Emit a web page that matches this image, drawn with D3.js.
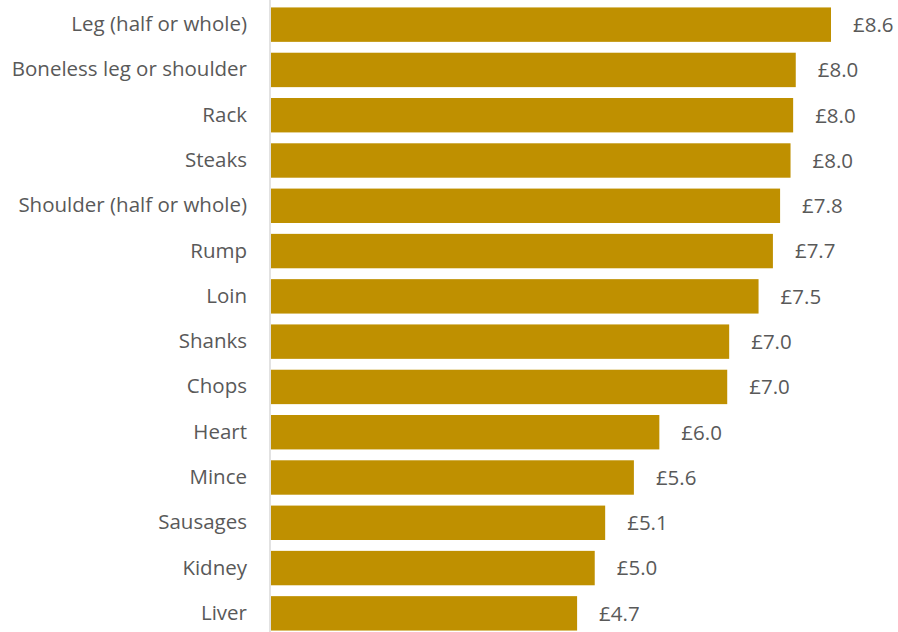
<!DOCTYPE html>
<html>
<head>
<meta charset="utf-8">
<script src="https://cdn.jsdelivr.net/npm/d3@7"></script>
<style>
  body { margin: 0; background: #fff; }
  svg { display: block; }
  text { font-family: "Open Sans", "Noto Sans", sans-serif; fill: #595959; }
</style>
</head>
<body>
<svg width="898" height="632"></svg>
<script>
// Categories and values, top to bottom
const cuts = ['Leg (half or whole)', 'Boneless leg or shoulder', 'Rack', 'Steaks',
  'Shoulder (half or whole)', 'Rump', 'Loin', 'Shanks', 'Chops', 'Heart',
  'Mince', 'Sausages', 'Kidney', 'Liver'];
const prices = [8.58, 8.04, 8.0, 7.96, 7.8, 7.69, 7.47, 7.02, 6.99, 5.95, 5.56, 5.12, 4.96, 4.69];

const margin = {top: 2, left: 271};
const height = 634;
const fontSize = '20.5px';

const svg = d3.select('svg');
const chart = svg.append('g')
  .attr('transform', 'translate(' + margin.left + ',' + margin.top + ')');

const x = d3.scaleLinear().domain([0, 8.58]).range([0, 560]);
const y = d3.scaleBand().domain(cuts).range([0, height]).paddingInner(0.24).paddingOuter(0.12);

// bars
chart.selectAll('rect.bar')
  .data(cuts).enter()
  .append('rect')
  .attr('class', 'bar')
  .attr('x', 0)
  .attr('y', d => y(d))
  .attr('width', (d, i) => x(prices[i]))
  .attr('height', y.bandwidth())
  .attr('fill', '#BF9000');

// value labels
chart.selectAll('text.val')
  .data(cuts).enter()
  .append('text')
  .attr('class', 'val')
  .attr('x', (d, i) => x(prices[i]) + 22)
  .attr('y', d => y(d) + y.bandwidth() / 2)
  .attr('dy', '0.36em')
  .style('font-size', fontSize)
  .text((d, i) => '£' + d3.format('.1f')(prices[i]));

// category axis (left)
const yAxis = d3.axisLeft(y).tickSize(0).tickPadding(23);
const ax = chart.append('g').attr('transform', 'translate(-1,0)').call(yAxis);
ax.select('.domain').attr('stroke', '#d9d9d9').attr('stroke-width', 1.5)
  .attr('d', 'M0,-2V' + (height + 2));
ax.selectAll('text').style('font-size', fontSize).attr('fill', '#595959');
</script>
</body>
</html>
